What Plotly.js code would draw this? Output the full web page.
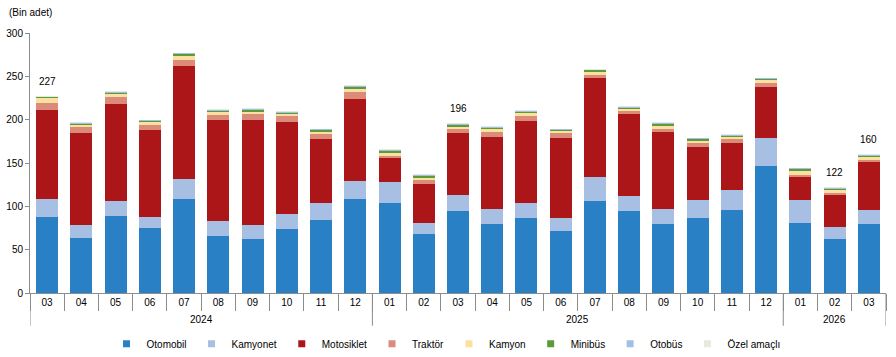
<!DOCTYPE html>
<html>
<head>
<meta charset="utf-8">
<script src="https://cdn.plot.ly/plotly-3.0.1.min.js"></script>
<style>html,body{margin:0;padding:0;background:#fff;}#chart{width:896px;height:357px;}</style>
</head>
<body>
<div id="chart"></div>
<script>
const years  = ["2024","2024","2024","2024","2024","2024","2024","2024","2024","2024",
                "2025","2025","2025","2025","2025","2025","2025","2025","2025","2025","2025","2025",
                "2026","2026","2026"];
const months = ["03","04","05","06","07","08","09","10","11","12",
                "01","02","03","04","05","06","07","08","09","10","11","12",
                "01","02","03"];

const otomobil   = [88,64,89,75,109,66,62.6,74,84.6,108.8,104.2,68.4,95,80,86.9,71.9,106.5,95,80,86.9,96.1,146.9,81.2,62.6,80];
const kamyonet   = [20,14,17.5,13,23,17.4,16.2,17.5,19.6,20.8,24.2,12.8,18.4,17.3,17.3,15,27.7,17.3,17.3,20.8,23.1,32.3,26.5,13.9,16.1];
const motosiklet = [103.5,107,112,100.4,130,116.6,121.2,106,73.8,94.6,27.7,44.9,71.6,83,94.6,92.3,114.2,94.6,88.8,61.1,54.2,58.8,26.5,36.9,55.4];
const traktor    = [8,7,8,6,7,5.7,6.9,7,5.8,8,2.3,4.6,4.6,5.8,5.8,5.8,3.5,3.4,3.5,4.6,4.6,4.6,2.3,2.3,2.3];
const kamyon     = [5,2,3.5,3.4,4.6,3.5,2.3,2.4,2.3,3.5,3.5,2.3,2.3,3.5,3.4,2.3,3.5,2.3,3.4,2.3,2.3,3.5,4.6,3.5,3.5];
const minibus    = [1.2,1.3,1,0.5,2.2,1.1,2.3,1.1,2.3,2.3,2.3,2.3,2.3,1.1,1.2,1.1,1.5,1.2,2.3,2.3,1.2,1.2,2.3,1.1,1.1];
const otobus     = [0.8,1.0,1,1,0.6,1.2,1.2,0.9,0.5,1.3,1.2,1.2,1.1,1.2,1.2,0.5,0.9,0.9,1.4,0.3,0.9,0.4,0.4,1.0,1.0];
const ozel       = [0.5,0.7,1,0.6,0.6,0.8,0.8,0.6,0.3,1,0.8,0.8,0.7,0.8,0.8,0.3,0.6,0.6,0.9,0.2,0.6,0.3,0.2,0.7,0.6];

const seriesNames  = ["Otomobil","Kamyonet","Motosiklet","Traktör","Kamyon","Minibüs","Otobüs","Özel amaçlı"];
const seriesValues = [otomobil,kamyonet,motosiklet,traktor,kamyon,minibus,otobus,ozel];
const seriesColors = ["#2a80c4","#a6bfe3","#ad1619","#db8b7a","#fde0a0","#5b9b3c","#a2c0e6","#e4ebdc"];

// labelled totals
const labelIdx  = [0,12,23,24];
const labelVals = [227,196,122,160];

const font = "Liberation Sans, Arial, sans-serif";
const axisGray = "#8c8c8c";

// unique category keys (year + month), shown as month ticks
const xKeys = years.map((y,i)=>y+"-"+months[i]);

const traces = [];
seriesNames.forEach((n,i)=>{
  traces.push({
    type:"bar", name:n, x:xKeys, y:seriesValues[i],
    marker:{color:seriesColors[i], line:{width:0}},
    legendgroup:n, showlegend:false, hoverinfo:"name+y"
  });
});
seriesNames.forEach((n,i)=>{
  traces.push({
    type:"scatter", mode:"markers", name:n, x:[xKeys[0]], y:[null],
    marker:{color:seriesColors[i], symbol:"square", size:7},
    legendgroup:n, showlegend:true, hoverinfo:"skip"
  });
});

// year groups
const yearList = [...new Set(years)];
const groups = yearList.map(y=>{
  const first = years.indexOf(y), last = years.lastIndexOf(y);
  return {year:y, first:first, last:last};
});

const annotations = labelIdx.map((k,j)=>({
  x:xKeys[k], y:labelVals[j], xref:"x", yref:"y",
  text:String(labelVals[j]), showarrow:false, yanchor:"bottom", yshift:7,
  font:{family:font,size:10,color:"#000"}
}));
groups.forEach(g=>{
  annotations.push({
    x:(g.first+g.last)/2, y:-0.103, xref:"x", yref:"paper",
    text:g.year, showarrow:false, xanchor:"center", yanchor:"middle",
    font:{family:font,size:10,color:"#000"}
  });
});
annotations.push({
  xref:"paper", yref:"paper", x:-0.027, y:1.078, xanchor:"left", yanchor:"middle",
  text:"(Bin adet)", showarrow:false, font:{family:font,size:10,color:"#000"}
});

const shapes = [];
const bounds = [groups[0].first-0.5].concat(groups.map(g=>g.last+0.5));
bounds.forEach(b=>{
  shapes.push({type:"line", xref:"x", yref:"paper", x0:b, x1:b, y0:0, y1:-0.126,
    line:{color:axisGray, width:1}});
});

const layout = {
  width:896, height:357,
  margin:{l:30, r:10, t:33, b:64, pad:0, autoexpand:false},
  paper_bgcolor:"#fff", plot_bgcolor:"#fff",
  barmode:"stack", bargap:0.357,
  font:{family:font, size:10, color:"#000"},
  xaxis:{
    type:"category", range:[-0.5, xKeys.length-0.5],
    tickmode:"array", tickvals:xKeys, ticktext:months,
    showgrid:false, zeroline:false,
    showline:true, linecolor:axisGray, linewidth:1,
    ticks:"outside", ticklen:17, tickcolor:axisGray, tickson:"boundaries",
    tickfont:{family:font,size:10,color:"#000"}
  },
  yaxis:{
    range:[0,300], tickvals:[0,50,100,150,200,250,300],
    showgrid:false, zeroline:false, showline:true, linecolor:axisGray, linewidth:1,
    ticks:"outside", ticklen:4, tickcolor:axisGray,
    tickfont:{family:font,size:10,color:"#000"}
  },
  showlegend:true,
  legend:{orientation:"h", x:0.486, xanchor:"center", yref:"container", y:0.078, yanchor:"top",
    font:{family:font,size:10,color:"#000"}, itemwidth:30, tracegroupgap:0,
    bgcolor:"rgba(0,0,0,0)"},
  annotations:annotations,
  shapes:shapes
};

Plotly.newPlot("chart", traces, layout, {displayModeBar:false, staticPlot:true});
</script>
</body>
</html>
